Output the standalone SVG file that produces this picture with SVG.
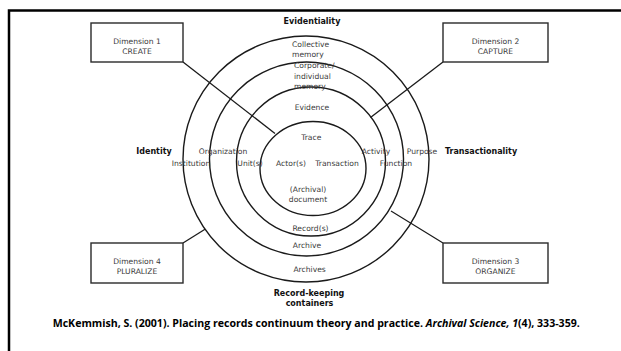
<svg xmlns="http://www.w3.org/2000/svg" width="621" height="351" viewBox="0 0 621 351">
<style>
.frame{fill:none;stroke:#000;stroke-width:2.5}
.ring{fill:none;stroke:#1a1a1a;stroke-width:1.4}
.box{fill:#fff;stroke:#2a2a2a;stroke-width:1.4}
.conn{fill:none;stroke:#1a1a1a;stroke-width:1.3}
.lbl{font-family:"DejaVu Sans",sans-serif;font-size:7.6px;fill:#3a3a3a}
.c{text-anchor:middle}
.b{font-family:"DejaVu Sans",sans-serif;font-size:8px;font-weight:bold;fill:#111}
.cite{font-family:"Open Sans","Noto Sans",sans-serif;font-size:10.6px;font-weight:bold;fill:#000}
</style>
<rect width="621" height="351" fill="#fff"/>
<path class="frame" d="M9,351 V10.5 H621"/>

<g id="rings">
<circle class="ring" cx="306" cy="159" r="123"/>
<circle class="ring" cx="306.5" cy="159" r="97"/>
<circle class="ring" cx="311" cy="161.5" r="74.5"/>
<ellipse class="ring" cx="313" cy="168.5" rx="53" ry="47"/>
</g>

<g id="connectors">
<line class="conn" x1="183" y1="62" x2="275" y2="133.5"/>
<line class="conn" x1="443" y1="62" x2="370.5" y2="117.5"/>
<line class="conn" x1="443" y1="243" x2="391" y2="211"/>
<line class="conn" x1="183" y1="243" x2="205" y2="229.3"/>
</g>

<g id="dim1">
<rect class="box" x="91" y="23" width="92" height="39"/>
<text class="lbl c" x="137" y="43.5">Dimension 1</text>
<text class="lbl c" x="137" y="54">CREATE</text>
</g>
<g id="dim2">
<rect class="box" x="443" y="23" width="105" height="39"/>
<text class="lbl c" x="495.5" y="43.5">Dimension 2</text>
<text class="lbl c" x="495.5" y="54">CAPTURE</text>
</g>
<g id="dim3">
<rect class="box" x="443" y="243" width="105" height="40"/>
<text class="lbl c" x="495.5" y="263.5">Dimension 3</text>
<text class="lbl c" x="495.5" y="274">ORGANIZE</text>
</g>
<g id="dim4">
<rect class="box" x="91" y="243" width="92" height="40"/>
<text class="lbl c" x="137" y="263.5">Dimension 4</text>
<text class="lbl c" x="137" y="274">PLURALIZE</text>
</g>

<g id="labels">
<text class="b c" x="312" y="24">Evidentiality</text>
<text class="lbl" x="292" y="47">Collective</text>
<text class="lbl" x="292" y="57">memory</text>
<text class="lbl" x="294" y="68">Corporate/</text>
<text class="lbl" x="294" y="79">individual</text>
<text class="lbl" x="294" y="89">memory</text>
<text class="lbl c" x="312" y="109.5">Evidence</text>
<text class="lbl c" x="311.3" y="140">Trace</text>
<text class="b c" x="154" y="153.5">Identity</text>
<text class="lbl c" x="223" y="153.5">Organization</text>
<text class="lbl c" x="191" y="166">Institution</text>
<text class="lbl c" x="250" y="166">Unit(s)</text>
<text class="lbl c" x="291" y="166">Actor(s)</text>
<text class="lbl c" x="337" y="166">Transaction</text>
<text class="lbl c" x="376" y="153.5">Activity</text>
<text class="lbl c" x="422" y="153.5">Purpose</text>
<text class="b c" x="481" y="153.5">Transactionality</text>
<text class="lbl c" x="396" y="166">Function</text>
<text class="lbl c" x="308" y="192">(Archival)</text>
<text class="lbl c" x="308" y="202">document</text>
<text class="lbl c" x="310.5" y="231">Record(s)</text>
<text class="lbl c" x="307" y="247.5">Archive</text>
<text class="lbl c" x="309.6" y="271.5">Archives</text>
<text class="b c" x="309" y="296">Record-keeping</text>
<text class="b c" x="309.5" y="306">containers</text>
</g>

<text class="cite" x="52.7" y="326.5">McKemmish, S. (2001). Placing records continuum theory and practice. <tspan font-style="italic">Archival Science, 1</tspan>(4), 333-359.</text>
</svg>
